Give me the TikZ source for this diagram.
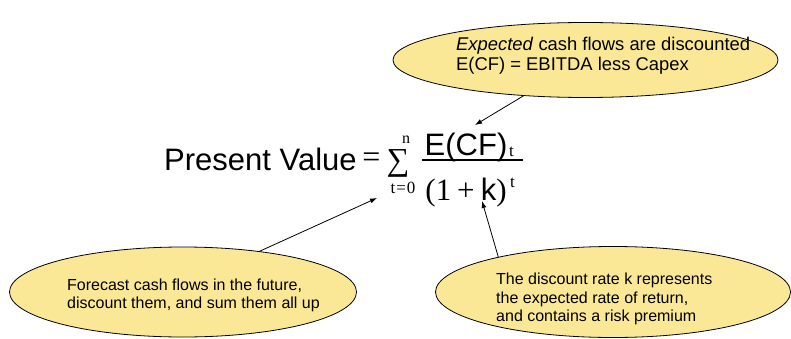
\documentclass[tikz,border=0pt]{standalone}
\usepackage{fontspec}
\setmainfont{Liberation Sans}
\newfontfamily\timesfont{Liberation Serif}
\usetikzlibrary{shapes.geometric,arrows.meta}
\definecolor{bubblefill}{RGB}{250,232,150}
\tikzset{
  bubble/.style={ellipse, draw=black, line width=0.8pt, fill=bubblefill, inner sep=0pt},
  note/.style={anchor=base west, inner sep=0pt, font=\fontsize{16}{16}\selectfont},
  topnote/.style={anchor=base west, inner sep=0pt, font=\fontsize{18.4}{18.4}\selectfont},
  big/.style={inner sep=0pt, font=\fontsize{31}{31}\selectfont},
  mathserif/.style={inner sep=0pt, font=\timesfont\fontsize{#1}{#1}\selectfont},
  pointer/.style={-{Latex[length=7pt,width=5pt]}, line width=0.8pt},
}
\begin{document}
\begin{tikzpicture}[x=1pt, y=-1pt]
\useasboundingbox (0,0) rectangle (791,339);

% callout bubbles
\node[bubble, minimum width=385pt, minimum height=75pt] (top) at (585.5,60) {};
\node[bubble, minimum width=347pt, minimum height=90pt] (left) at (183,292) {};
\node[bubble, minimum width=355pt, minimum height=91pt] (right) at (613,292) {};

% bubble texts
\node[topnote] (top1) at (456,51) {\textit{Expected} cash flows are discounted};
\node[topnote] (top2) at (456,71) {E(CF) = EBITDA less Capex};
\node[note] (left1) at (67,290) {Forecast cash flows in the future,};
\node[note] (left2) at (67,308) {discount them, and sum them all up};
\node[note] (right1) at (496,284) {The discount rate k represents};
\node[note] (right2) at (496,303) {the expected rate of return,};
\node[note] (right3) at (496,321) {and contains a risk premium};

% present value formula
\node[big, anchor=base west] (pv) at (164,170) {Present Value};
\node[mathserif=32] (eq) at (371.5,160) {=};
\node[mathserif=32] (sum) at (398,163) {∑};
\node[mathserif=16, anchor=base] (upper) at (406,143) {n};
\node[mathserif=17, anchor=base] (lower) at (403,193) {t\kern1pt=\kern1pt0};
\node[big, anchor=base] (num) at (466,155) {E(CF)};
\node[mathserif=17, anchor=base west] (subt) at (509,157) {t};
\node[big, anchor=base] (den) at (466,200)
  {{\timesfont (1\kern6pt+\kern6pt}k{\timesfont )}};
\node[mathserif=17, anchor=base west] (supt) at (510,187) {t};
\coordinate (barl) at (422,160);
\coordinate (barr) at (523,160);
\draw[line width=1.2pt] (barl) -- (barr);

% pointer targets
\coordinate (numtip) at (475,125);
\coordinate (sumtip) at (377,198);
\coordinate (ktip) at (482,201);

\draw[pointer] (top.210) -- (numtip);
\draw[pointer] (left.28) -- (sumtip);
\draw[pointer] (right.163) -- (ktip);
\end{tikzpicture}
\end{document}
